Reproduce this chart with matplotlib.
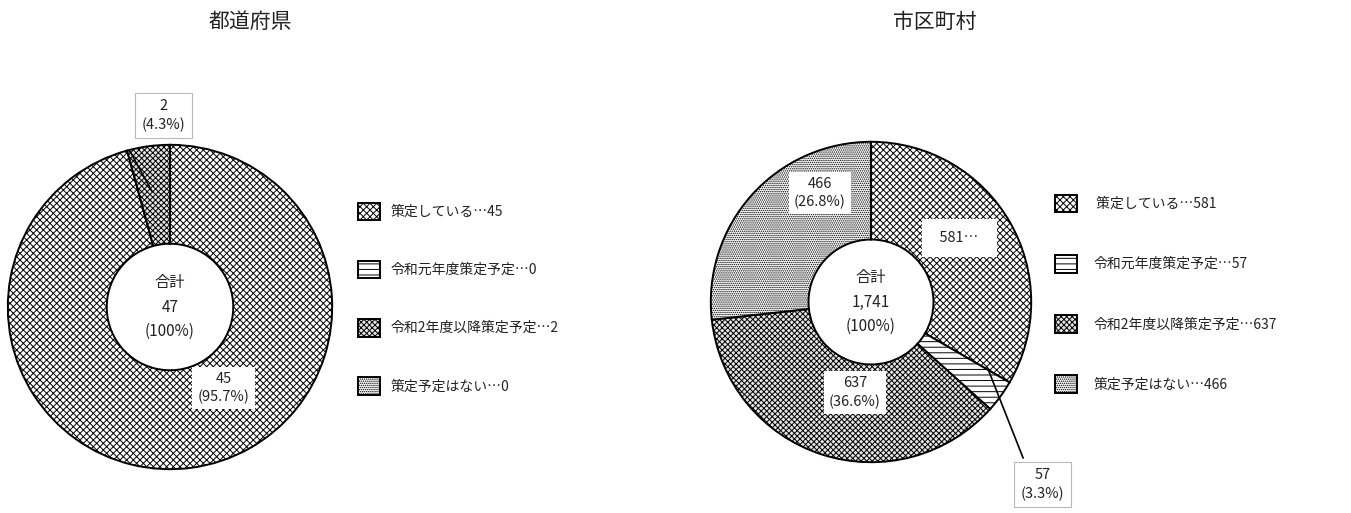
import matplotlib
matplotlib.use("Agg")
import matplotlib.pyplot as plt

plt.rcParams['font.family'] = ['Noto Sans CJK JP', 'DejaVu Sans']
plt.rcParams['hatch.linewidth'] = 0.7

# ---- data ----
categories = ["策定している", "令和元年度策定予定", "令和2年度以降策定予定", "策定予定はない"]
pref_values = [45, 0, 2, 0]
muni_values = [581, 57, 637, 466]
pref_title = "都道府県"
muni_title = "市区町村"
pref_total = 47
muni_total = 1741

hatches = ['xxxxx', '---', 'xxxxxx', '........']
faces = ['white', 'white', '#e4e4e4', 'white']

W, H = 1351, 513
fig = plt.figure(figsize=(W / 100, H / 100), dpi=100)


def add_donut(cx, cy, r):
    ax = fig.add_axes([(cx - r) / W, (H - cy - r) / H, 2 * r / W, 2 * r / H])
    return ax


def draw(ax, values):
    wedges, _ = ax.pie(values, startangle=90, counterclock=False, radius=1.0,
                       wedgeprops=dict(width=0.61, edgecolor='black', linewidth=1.4))
    for w, h, f in zip(wedges, hatches, faces):
        w.set_hatch(h)
        w.set_facecolor(f)
    ax.set_xlim(-1.005, 1.005)
    ax.set_ylim(-1.005, 1.005)
    ax.set_aspect('equal')
    ax.axis('off')
    return wedges


def pct(v, tot):
    return f"{v / tot * 100:.1f}%"


box_in = dict(boxstyle='square,pad=0.35', fc='white', ec='none')
box_out = dict(boxstyle='square,pad=0.45', fc='white', ec='#b8b8b8', lw=0.8)
lab_fs = 10.5
txt_col = '#222222'

# ---- left: prefectures ----
axL = add_donut(170, 307, 163)
wL = draw(axL, pref_values)
axL.text(0, 0, f"合計\n{pref_total}\n(100%)", ha='center', va='center', fontsize=11,
         linespacing=1.6, color=txt_col)
axL.text(0.33, -0.50, f"{pref_values[0]}\n({pct(pref_values[0], pref_total)})", ha='center',
         va='center', fontsize=lab_fs, bbox=box_in, color=txt_col, linespacing=1.35)
axL.annotate("", xy=(-0.104, 0.70), xytext=(-0.258, 0.98),
             arrowprops=dict(arrowstyle='-', color='black', lw=1.2), annotation_clip=False)
axL.text(-0.04, 1.18, f"{pref_values[2]}\n({pct(pref_values[2], pref_total)})", ha='center',
         va='center', fontsize=lab_fs, bbox=box_out, color=txt_col, linespacing=1.35, clip_on=False)

legL = fig.legend(wL, [f"{c}…{v}" for c, v in zip(categories, pref_values)],
                  loc='upper left', bbox_to_anchor=(345 / W, 1 - 190 / H), frameon=False,
                  fontsize=10, labelspacing=2.9, handlelength=1.6, handleheight=1.6,
                  handletextpad=0.8, labelcolor=txt_col)
fig.text(250 / W, 1 - 22 / H, pref_title, ha='center', va='center', fontsize=15, color=txt_col)

# ---- right: municipalities ----
axR = add_donut(871, 302, 161)
wR = draw(axR, muni_values)
axR.text(0, 0, f"合計\n{muni_total:,}\n(100%)", ha='center', va='center', fontsize=11,
         linespacing=1.6, color=txt_col)
axR.text(-0.32, 0.68, f"{muni_values[3]}\n({pct(muni_values[3], muni_total)})", ha='center',
         va='center', fontsize=lab_fs, bbox=box_in, color=txt_col, linespacing=1.35)
axR.text(0.55, 0.40, f"  {muni_values[0]}…  ", ha='center', va='center', fontsize=lab_fs,
         bbox=dict(boxstyle='square,pad=0.8', fc='white', ec='none'), color=txt_col)
axR.text(-0.10, -0.565, f"{muni_values[2]}\n({pct(muni_values[2], muni_total)})", ha='center',
         va='center', fontsize=lab_fs, bbox=box_in, color=txt_col, linespacing=1.35)
axR.annotate("", xy=(0.727, -0.41), xytext=(0.956, -0.99),
             arrowprops=dict(arrowstyle='-', color='black', lw=1.2), annotation_clip=False)
axR.text(1.07, -1.14, f"{muni_values[1]}\n({pct(muni_values[1], muni_total)})", ha='center',
         va='center', fontsize=lab_fs, bbox=box_out, color=txt_col, linespacing=1.35, clip_on=False)

legR = fig.legend(wR, [f" {categories[0]}…{muni_values[0]}"] +
                  [f"{c}…{v}" for c, v in zip(categories[1:], muni_values[1:])],
                  loc='upper left', bbox_to_anchor=(1042 / W, 1 - 182 / H), frameon=False,
                  fontsize=10, labelspacing=3.05, handlelength=1.6, handleheight=1.6,
                  handletextpad=1.2, labelcolor=txt_col)
fig.text(935 / W, 1 - 22 / H, muni_title, ha='center', va='center', fontsize=15, color=txt_col)

fig.savefig("out.png", dpi=100)
